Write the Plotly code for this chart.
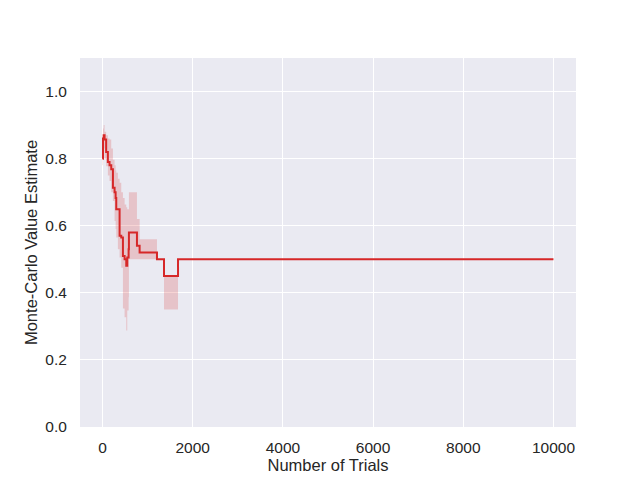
import plotly.graph_objects as go

# =============================================================================
# data (running Monte-Carlo estimate and its band)
# =============================================================================
trials = [0, 10, 25, 45, 80, 118, 155, 193, 230, 267, 290, 304, 340, 378, 415,
          452, 489, 526, 548, 578, 585, 748, 763, 822, 1207, 1363, 1674, 10000]
estimate = [0.80, 0.86, 0.87, 0.857, 0.82, 0.79, 0.78, 0.768, 0.713, 0.70, 0.683,
            0.649, 0.649, 0.57, 0.565, 0.51, 0.50, 0.481, 0.505, 0.53, 0.58, 0.58,
            0.54, 0.52, 0.50, 0.45, 0.50, 0.50]
lower = [0.78, 0.82, 0.83, 0.80, 0.777, 0.75, 0.733, 0.70, 0.674, 0.614, 0.59,
         0.565, 0.53, 0.505, 0.475, 0.353, 0.327, 0.288, 0.347, 0.387, 0.50, 0.50,
         0.50, 0.50, 0.50, 0.35, 0.50, 0.50]
upper = [0.82, 0.89, 0.90, 0.88, 0.87, 0.86, 0.857, 0.83, 0.797, 0.78, 0.765,
         0.758, 0.74, 0.728, 0.70, 0.683, 0.663, 0.655, 0.649, 0.649, 0.70, 0.70,
         0.62, 0.56, 0.50, 0.45, 0.50, 0.50]
xticks = [0, 2000, 4000, 6000, 8000, 10000]
yticks = [0.0, 0.2, 0.4, 0.6, 0.8, 1.0]

red = "#d62728"
font = "Liberation Sans, Arial, sans-serif"

fig = go.Figure()
fig.add_trace(go.Scatter(x=trials, y=upper, mode="lines", line=dict(width=0, shape="hv"),
                         showlegend=False, hoverinfo="skip"))
fig.add_trace(go.Scatter(x=trials, y=lower, mode="lines", line=dict(width=0, shape="hv"),
                         fill="tonexty", fillcolor="rgba(214,39,40,0.2)",
                         showlegend=False, hoverinfo="skip"))
fig.add_trace(go.Scatter(x=trials, y=estimate, mode="lines",
                         line=dict(color=red, width=2, shape="hv"), showlegend=False))

# page body has an 8px margin, so the figure is shrunk by that much
fig.update_layout(
    width=632, height=472,
    margin=dict(l=72, r=64, t=50, b=53),
    paper_bgcolor="white", plot_bgcolor="#EAEAF2",
    font=dict(family=font, size=15.5, color="#262626"),
)
fig.update_xaxes(range=[-500, 10500], tickvals=xticks, ticktext=[str(t) for t in xticks],
                 showgrid=True, gridcolor="white", gridwidth=1.3, zeroline=False,
                 ticks="outside", ticklen=6, tickcolor="rgba(0,0,0,0)", automargin=False,
                 title=dict(text="Number of Trials", font=dict(size=16.5), standoff=2))
fig.update_yaxes(range=[0, 1.1], tickvals=yticks, tickformat=".1f",
                 showgrid=True, gridcolor="white", gridwidth=1.3, zeroline=False,
                 ticks="outside", ticklen=9, tickcolor="rgba(0,0,0,0)", automargin=False,
                 title=dict(text="Monte-Carlo Value Estimate", font=dict(size=16.5), standoff=3))

fig.write_html("out.html")
